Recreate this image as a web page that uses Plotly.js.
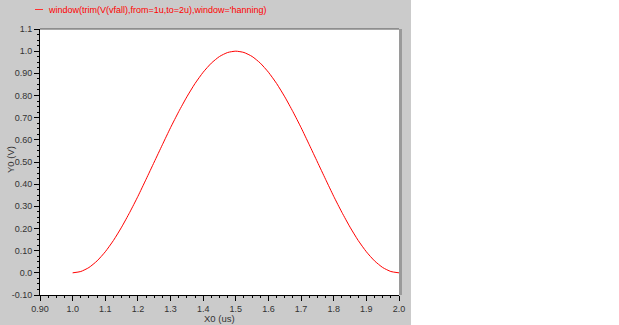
<!DOCTYPE html>
<html>
<head>
<meta charset="utf-8">
<script src="https://cdn.plot.ly/plotly-3.0.1.min.js"></script>
<style>html,body{margin:0;padding:0;background:#fff;}#chart{width:619px;height:325px;}</style>
</head>
<body>
<div id="chart"></div>
<script>
// Data
const xValues = [1.000,1.025,1.050,1.075,1.100,1.125,1.150,1.175,1.200,1.225,1.250,1.275,1.300,1.325,1.350,1.375,1.400,1.425,1.450,1.475,1.500,
                 1.525,1.550,1.575,1.600,1.625,1.650,1.675,1.700,1.725,1.750,1.775,1.800,1.825,1.850,1.875,1.900,1.925,1.950,1.975,2.000];
const yValues = [0.000,0.006,0.024,0.054,0.095,0.146,0.206,0.273,0.345,0.422,0.500,0.578,0.655,0.727,0.794,0.854,0.905,0.946,0.976,0.994,1.000,
                 0.994,0.976,0.946,0.905,0.854,0.794,0.727,0.655,0.578,0.500,0.422,0.345,0.273,0.206,0.146,0.095,0.054,0.024,0.006,0.000];
const seriesName = "window(trim(V(vfall),from=1u,to=2u),window='hanning)";
const xTickVals = [0.9,1.0,1.1,1.2,1.3,1.4,1.5,1.6,1.7,1.8,1.9,2.0];
const xTickText = ["0.90","1.0","1.1","1.2","1.3","1.4","1.5","1.6","1.7","1.8","1.9","2.0"];
const yTickVals = [-0.1,0.0,0.1,0.2,0.3,0.4,0.5,0.6,0.7,0.8,0.9,1.0,1.1];
const yTickText = ["-0.10","0.0","0.10","0.20","0.30","0.40","0.50","0.60","0.70","0.80","0.90","1.0","1.1"];
const xTitle = "X0 (us)";
const yTitle = "Y0 (V)";

const W = 619, H = 325;
const L = 40, R = 399, T = 29, B = 295;
const pw = R - L, ph = B - T;
const px = v => (v - L) / pw;           // pixel -> paper x
const py = v => (B - v) / ph;           // pixel -> paper y

const fam = "Liberation Sans, Arial, sans-serif";
const tickFont = {family: fam, size: 9, color: "#333333"};
const titleFont = {family: fam, size: 9.5, color: "#333333"};

const trace = {
  x: xValues, y: yValues, type: "scatter", mode: "lines",
  name: seriesName,
  line: {color: "#ff0000", width: 1, shape: "spline", smoothing: 0.6},
  showlegend: false, hoverinfo: "skip"
};

const layout = {
  width: W, height: H,
  margin: {l: L, r: W - R, t: T, b: H - B, pad: 0},
  paper_bgcolor: "#cbcbcb",
  plot_bgcolor: "#ffffff",
  font: tickFont,
  showlegend: false,
  xaxis: {
    range: [0.9, 2.0], tickmode: "array", tickvals: xTickVals, ticktext: xTickText,
    ticks: "outside", ticklen: 5, tickwidth: 1, tickcolor: "#000",
    showline: true, linecolor: "#000", linewidth: 1, showgrid: false, zeroline: false,
    minor: {dtick: 0.025, tick0: 0.9, ticks: "outside", ticklen: 2, tickcolor: "#000", showgrid: false},
    tickfont: tickFont, fixedrange: true, automargin: false
  },
  yaxis: {
    range: [-0.1, 1.1], tickmode: "array", tickvals: yTickVals, ticktext: yTickText,
    ticks: "outside", ticklen: 5, tickwidth: 1, tickcolor: "#000",
    showline: true, linecolor: "#000", linewidth: 1, showgrid: false, zeroline: false,
    minor: {dtick: 0.025, tick0: -0.1, ticks: "outside", ticklen: 2, tickcolor: "#000", showgrid: false},
    tickfont: tickFont, fixedrange: true, automargin: false
  },
  shapes: [
    // white area right of the grey panel
    {type: "rect", xref: "paper", yref: "paper", x0: px(411), x1: px(W + 5), y0: py(H + 5), y1: py(-5),
     fillcolor: "#ffffff", line: {width: 0}, layer: "below"},
    // top frame line
    {type: "line", xref: "paper", yref: "paper", x0: 0, x1: px(R), y0: 1, y1: 1,
     line: {color: "#505050", width: 1}},
    // right shadow band
    {type: "rect", xref: "paper", yref: "paper", x0: px(R), x1: px(R + 3), y0: py(B), y1: 1,
     fillcolor: "#9a9a9a", line: {width: 0}},
    // legend line sample
    {type: "rect", xref: "paper", yref: "paper", x0: px(35), x1: px(43), y0: py(10), y1: py(9),
     fillcolor: "#ff3030", line: {width: 0}, opacity: 1}
  ],
  annotations: [
    {text: seriesName, xref: "paper", yref: "paper", x: px(46), y: py(9.5),
     xanchor: "left", yanchor: "middle", showarrow: false,
     font: {family: fam, size: 9, color: "#ff0000"}},
    {text: xTitle, xref: "paper", yref: "paper", x: px(219.5), y: py(318),
     xanchor: "center", yanchor: "middle", showarrow: false, font: titleFont},
    {text: yTitle, xref: "paper", yref: "paper", x: px(11), y: py(160),
     xanchor: "center", yanchor: "middle", textangle: -90, showarrow: false, font: titleFont}
  ]
};

Plotly.newPlot("chart", [trace], layout, {displayModeBar: false, staticPlot: true});
</script>
</body>
</html>
